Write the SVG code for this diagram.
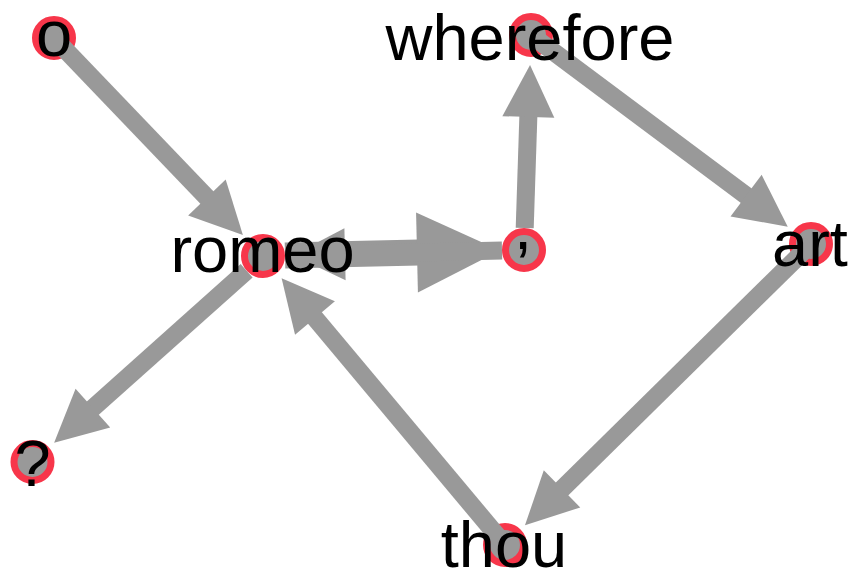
<svg xmlns="http://www.w3.org/2000/svg" width="853" height="573" viewBox="0 0 853 573">
<style>
.node circle{fill:#999999;stroke:#f7364a;stroke-width:7}
.edge{stroke:#999999;stroke-width:18;fill:none}
.thick{stroke-width:26}
.lbl{font-family:"Liberation Sans",Arial,sans-serif;font-size:65px;fill:#000;text-anchor:middle}
</style>
<defs>
<marker id="ah" markerUnits="userSpaceOnUse" markerWidth="52" markerHeight="52" refX="2" refY="26" orient="auto" overflow="visible">
<path d="M0,0 L52,26 L0,52 Z" fill="#999999"/>
</marker>
<marker id="ahb" markerUnits="userSpaceOnUse" markerWidth="83" markerHeight="80" refX="2" refY="40" orient="auto" overflow="visible">
<path d="M0,0 L83,40 L0,80 Z" fill="#999999"/>
</marker>
</defs>
<g id="nodes">
<g id="n-o" class="node"><circle cx="54" cy="38" r="18.5"/></g>
<g id="n-romeo" class="node"><circle cx="263" cy="256" r="18.5"/></g>
<g id="n-comma" class="node"><circle cx="524" cy="250" r="18.5"/></g>
<g id="n-wherefore" class="node"><circle cx="531" cy="35" r="18.5"/></g>
<g id="n-art" class="node"><circle cx="811" cy="244" r="18.5"/></g>
<g id="n-thou" class="node"><circle cx="505" cy="545" r="18.5"/></g>
<g id="n-q" class="node"><circle cx="32.5" cy="462" r="18.5"/></g>
</g>
<g id="edges">
<line class="edge" x1="54" y1="38" x2="208.3" y2="199" marker-end="url(#ah)"/>
<line class="edge" x1="246.6" y1="270.7" x2="91.4" y2="409.4" marker-end="url(#ah)"/>
<line class="edge thick" x1="285" y1="255.5" x2="419" y2="252.4" marker-end="url(#ahb)"/>
<line class="edge" x1="502" y1="250.5" x2="343" y2="254.2" marker-end="url(#ah)"/>
<line class="edge" x1="524.7" y1="228" x2="528.4" y2="115" marker-end="url(#ah)"/>
<line class="edge" x1="531" y1="35" x2="747.7" y2="196.8" marker-end="url(#ah)"/>
<line class="edge" x1="811" y1="244" x2="560.6" y2="490.3" marker-end="url(#ah)"/>
<line class="edge" x1="505" y1="545" x2="313.7" y2="316.5" marker-end="url(#ah)"/>
</g>
<g id="labels">
<text class="lbl" x="54" y="56">o</text>
<text class="lbl" x="262.5" y="272">romeo</text>
<text class="lbl" x="523" y="249">,</text>
<text class="lbl" x="530" y="60">wherefore</text>
<text class="lbl" x="810" y="266">art</text>
<text class="lbl" x="504" y="567">thou</text>
<text class="lbl" x="32.5" y="486">?</text>
</g>
</svg>
